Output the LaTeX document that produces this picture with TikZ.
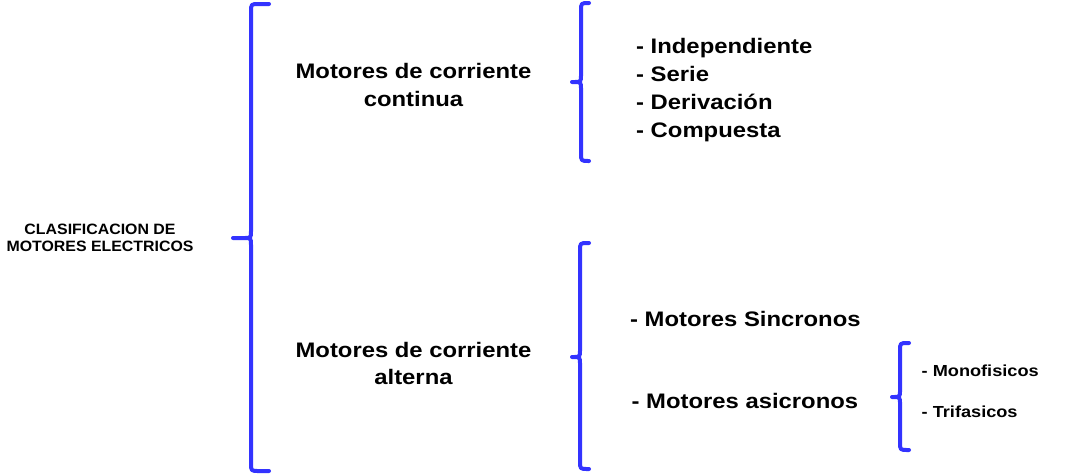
\documentclass[tikz,border=0pt]{standalone}
\usepackage{fontspec}
\setmainfont{Liberation Sans}
\newfontfamily\bigfont{Liberation Sans}[FakeStretch=1.135]
\newfontfamily\smallfont{Liberation Sans}[FakeStretch=1.06]
\definecolor{braceblue}{RGB}{51,51,255}
\tikzset{
  bracepath/.style={draw=braceblue, line width=4pt, line cap=round, line join=round},
  bigtext/.style={font=\bigfont\bfseries\fontsize{21}{27.5}\selectfont, inner sep=0pt, text=black},
  listtext/.style={font=\bigfont\bfseries\fontsize{21}{28.2}\selectfont, inner sep=0pt, text=black, align=left},
  smalltext/.style={font=\smallfont\bfseries\fontsize{15}{16.7}\selectfont, inner sep=0pt, text=black},
  subtext/.style={font=\bigfont\bfseries\fontsize{16}{19}\selectfont, inner sep=0pt, text=black}
}
% xe: end x, xv: vertical x, xt: tip x, yt: top y, ym: tip y, yb: bottom y
\newcommand{\mybrace}[6]{%
  \path[bracepath] (#1,#4) -- ({#2+8},#4) .. controls (#2,#4) .. (#2,{#4+8})
    -- (#2,{#5-7}) .. controls (#2,#5) .. ({#2-7},#5) -- (#3,#5)
    -- ({#2-7},#5) .. controls (#2,#5) .. (#2,{#5+7})
    -- (#2,{#6-8}) .. controls (#2,#6) .. ({#2+8},#6) -- (#1,#6);}
\begin{document}
\begin{tikzpicture}[x=1pt,y=-1pt]
\fill[white] (0,0) rectangle (1071,475);
\useasboundingbox (0,0) rectangle (1071,475);

\mybrace{269}{251}{233}{4}{238}{471}
\mybrace{589}{581}{572}{3}{82}{161}
\mybrace{589}{580}{572}{243}{357}{469}
\mybrace{909}{900}{892}{343}{397}{450}

\node[smalltext, align=center] (root) at (100,238) {CLASIFICACION DE\\MOTORES ELECTRICOS};
\node[bigtext, align=center] (dc) at (413.5,85) {Motores de corriente\\continua};
\node[bigtext, align=center] (ac) at (413.5,363.5) {Motores de corriente\\alterna};
\node[listtext, anchor=west] (dclist) at (636,90) {- Independiente\\- Serie\\- Derivación\\- Compuesta};
\node[bigtext, anchor=base west] (sync) at (630,326.7) {- Motores Sincronos};
\node[bigtext, anchor=base west] (async) at (631.5,408.3) {- Motores asicronos};
\node[subtext, anchor=base west] (mono) at (921.5,376.7) {- Monofisicos};
\node[subtext, anchor=base west] (tri) at (921.5,417.3) {- Trifasicos};
\end{tikzpicture}
\end{document}
